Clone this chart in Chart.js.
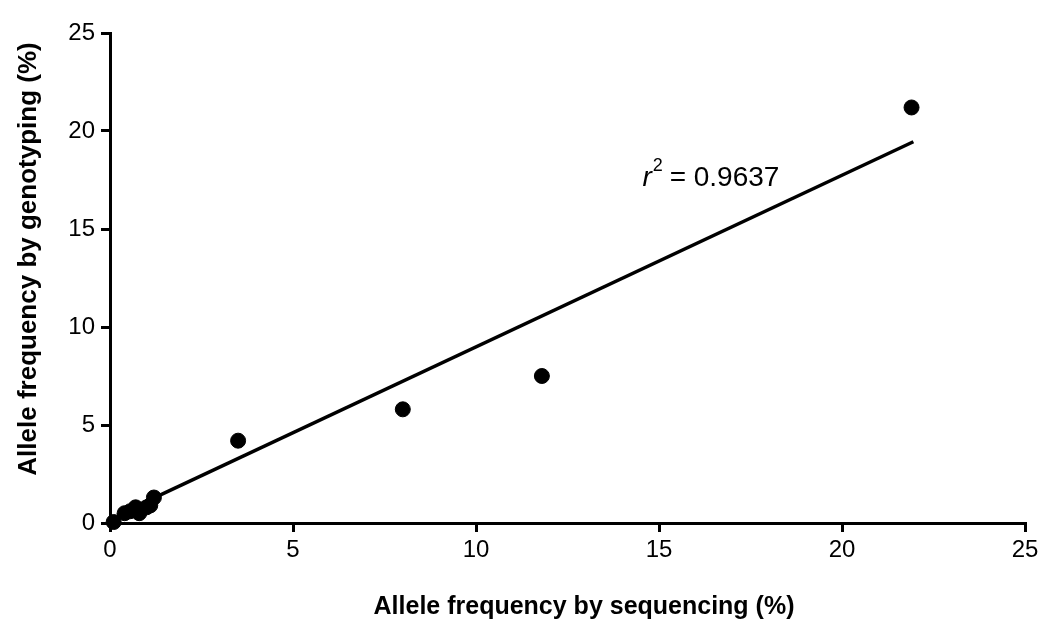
<!DOCTYPE html>
<html>
<head>
<meta charset="utf-8">
<script src="https://cdn.jsdelivr.net/npm/chart.js@4"></script>
<style>
  html, body { margin: 0; padding: 0; background: #fff; }
  #wrap { width: 1050px; height: 632px; }
</style>
</head>
<body>
<div id="wrap"><canvas id="scatterChart"></canvas></div>
<script>
// Data
const seqFreq = [0.1, 0.4, 0.55, 0.7, 0.8, 1.0, 1.1, 1.2, 3.5, 8.0, 11.8, 21.9];
const genoFreq = [0.05, 0.5, 0.6, 0.8, 0.5, 0.8, 0.9, 1.3, 4.2, 5.8, 7.5, 21.2];
const fitX = [0.2, 21.95];
const fitY = [0.4, 19.45];
const axisTicks = [0, 5, 10, 15, 20, 25];
const r2Label = '0.9637';
const xTitle = 'Allele frequency by sequencing (%)';
const yTitle = 'Allele frequency by genotyping (%)';

const points = seqFreq.map((x, i) => ({ x: x, y: genoFreq[i] }));
const fitLine = fitX.map((x, i) => ({ x: x, y: fitY[i] }));

const fam = '"Liberation Sans", Arial, sans-serif';

// r² note and axis titles (the originals sit a little off-centre)
const notesPlugin = {
    id: 'notes',
    afterDatasetsDraw(chart) {
        const ctx = chart.ctx;
        const px = chart.scales.x.getPixelForValue(14.55);
        const py = chart.scales.y.getPixelForValue(17.6);
        ctx.save();
        ctx.fillStyle = '#000';
        ctx.textBaseline = 'middle';
        ctx.font = 'italic 28px ' + fam;
        ctx.fillText('r', px, py);
        const rw = ctx.measureText('r').width;
        ctx.font = '18px ' + fam;
        ctx.fillText('2', px + rw + 1, py - 12);
        ctx.font = '28px ' + fam;
        ctx.fillText(' = ' + r2Label, px + rw + 10, py);

        ctx.textAlign = 'center';
        ctx.font = 'bold 25px ' + fam;
        ctx.fillText(xTitle, 584, 607);

        ctx.translate(29, 259);
        ctx.rotate(-Math.PI / 2);
        ctx.font = 'bold 26px ' + fam;
        ctx.fillText(yTitle, 0, 0);
        ctx.restore();
    }
};

const tickFont = { family: fam, size: 24 };

new Chart(document.getElementById('scatterChart').getContext('2d'), {
    type: 'scatter',
    data: {
        datasets: [
            {
                label: 'Loci',
                data: points,
                backgroundColor: '#000',
                borderColor: '#000',
                pointRadius: 7.5,
                pointHoverRadius: 7.5,
                clip: false
            },
            {
                type: 'line',
                label: 'Linear fit',
                data: fitLine,
                borderColor: '#000',
                borderWidth: 3.5,
                pointRadius: 0,
                fill: false
            }
        ]
    },
    options: {
        responsive: true,
        maintainAspectRatio: false,
        animation: false,
        layout: { padding: { left: 0, right: 25, top: 33, bottom: 0 } },
        plugins: {
            legend: { display: false },
            tooltip: { enabled: false }
        },
        scales: {
            x: {
                type: 'linear',
                min: 0,
                max: 25,
                afterBuildTicks: s => { s.ticks = axisTicks.map(v => ({ value: v })); },
                afterFit: s => { s.height = 109; },
                border: { display: true, color: '#000', width: 3 },
                grid: { drawOnChartArea: false, color: '#000', lineWidth: 3, tickLength: 9 },
                ticks: { color: '#000', font: tickFont, padding: 4 }
            },
            y: {
                type: 'linear',
                min: 0,
                max: 25,
                afterBuildTicks: s => { s.ticks = axisTicks.map(v => ({ value: v })); },
                afterFit: s => { s.width = 110; },
                border: { display: true, color: '#000', width: 3 },
                grid: { drawOnChartArea: false, color: '#000', lineWidth: 3, tickLength: 9 },
                ticks: { color: '#000', font: tickFont, padding: 6 }
            }
        }
    },
    plugins: [notesPlugin]
});
</script>
</body>
</html>
